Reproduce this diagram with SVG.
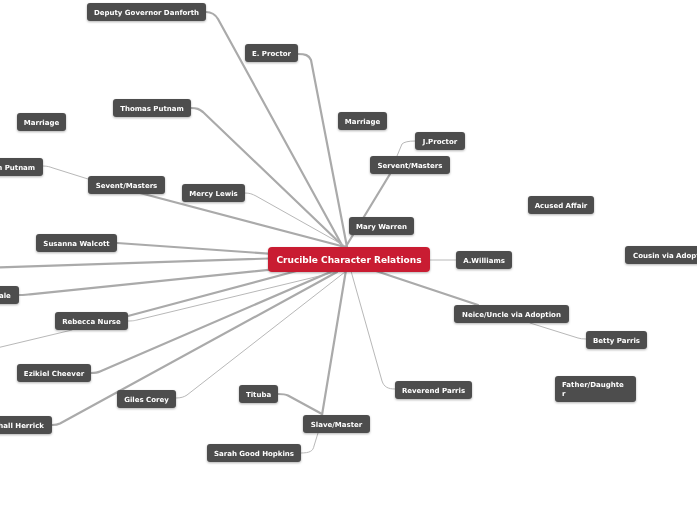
<svg xmlns="http://www.w3.org/2000/svg" width="697" height="520" viewBox="0 0 697 520">
<style>
.n rect{fill:#4d4d4d}
.n text{fill:#fff;font-family:"DejaVu Sans",Verdana,sans-serif;font-weight:bold;font-size:7px;text-anchor:middle}
.c rect{fill:#c91f31}
.c text{fill:#fff;font-family:"DejaVu Sans",Verdana,sans-serif;font-weight:bold;font-size:9px;text-anchor:middle}
.k{fill:none;stroke:#aaaaaa;stroke-width:2.2;stroke-linecap:round}
.t{fill:none;stroke:#b8b8b8;stroke-width:1;stroke-linecap:round}
</style>
<defs>
<filter id="sh" x="-10%" y="-20%" width="120%" height="150%">
<feDropShadow dx="0" dy="1" stdDeviation="0.8" flood-color="#000" flood-opacity="0.3"/>
</filter>
</defs>
<rect width="697" height="520" fill="#ffffff"/>
<g id="connectors">
<path class="k" d="M206,12 C212,12 215,14 218,19 L343,247"/>
<path class="k" d="M298,54 C305,54 309,55 311,60 L347,247"/>
<path class="k" d="M191,108 C197,108 199,109 203,112 L343,246"/>
<path class="t" d="M245,193 C250,193 252,194 256,196 L345,246"/>
<path class="k" d="M140,193 L345,247"/>
<path class="t" d="M43,166 C48,166 50,167 53,168 L88,179"/>
<path class="k" d="M345,248 L390,174"/>
<path class="t" d="M397,156 L402,144 Q405,141 415,141"/>
<path class="k" d="M117,243 L345,259"/>
<path class="k" d="M-20,268 L345,256"/>
<path class="k" d="M19,295 C24,295 27,295 30,294.3 L345,262"/>
<path class="k" d="M128,316 L330,262"/>
<path class="t" d="M128,321 C133,321 135,320.5 137,320 L340,271"/>
<path class="t" d="M-20,352 L72,330"/>
<path class="k" d="M91,373 C96,373 98,372.5 100,371.5 L335,270"/>
<path class="t" d="M176,398 C181,398 184,397 187,395 L345,272"/>
<path class="k" d="M52,425 C56,425 58,424.5 60,423.5 L337,272"/>
<path class="k" d="M346,270 L322,415"/>
<path class="k" d="M278,394 C283,394 285,394 288,395.5 L322,414"/>
<path class="t" d="M301,453 C310,453 313,451 314,446 L318,433"/>
<path class="t" d="M395,389 C388,389 384,387 382,381 L351,271"/>
<path class="t" d="M430,260 L456,260"/>
<path class="k" d="M349,262 L478,305"/>
<path class="t" d="M530,323 L578,338 Q581,339 586,339"/>
</g>
<g id="node-danforth" class="n" filter="url(#sh)"><rect x="87" y="3" width="119" height="18" rx="3"/><text x="146.5" y="14.5">Deputy Governor Danforth</text></g>
<g id="node-eproctor" class="n" filter="url(#sh)"><rect x="245" y="44" width="53" height="18" rx="3"/><text x="271.5" y="55.5">E. Proctor</text></g>
<g id="node-thomasputnam" class="n" filter="url(#sh)"><rect x="113" y="99" width="78" height="18" rx="3"/><text x="152" y="110.5">Thomas Putnam</text></g>
<g id="node-marriage-left" class="n" filter="url(#sh)"><rect x="17" y="113" width="49" height="18" rx="3"/><text x="41.5" y="124.5">Marriage</text></g>
<g id="node-annputnam" class="n" filter="url(#sh)"><rect x="-21" y="158" width="64" height="18" rx="3"/><text x="11" y="169.5">Ann Putnam</text></g>
<g id="node-sevent" class="n" filter="url(#sh)"><rect x="88" y="176" width="77" height="18" rx="3"/><text x="126.5" y="187.5">Sevent/Masters</text></g>
<g id="node-mercylewis" class="n" filter="url(#sh)"><rect x="182" y="184" width="63" height="18" rx="3"/><text x="213.5" y="195.5">Mercy Lewis</text></g>
<g id="node-susanna" class="n" filter="url(#sh)"><rect x="36" y="234" width="81" height="18" rx="3"/><text x="76.5" y="245.5">Susanna Walcott</text></g>
<g id="node-hale" class="n" filter="url(#sh)"><rect x="-15" y="286" width="34" height="18" rx="3"/><text x="2" y="297.5">Hale</text></g>
<g id="node-rebecca" class="n" filter="url(#sh)"><rect x="55" y="312" width="73" height="18" rx="3"/><text x="91.5" y="323.5">Rebecca Nurse</text></g>
<g id="node-ezikiel" class="n" filter="url(#sh)"><rect x="17" y="364" width="74" height="18" rx="3"/><text x="54" y="375.5">Ezikiel Cheever</text></g>
<g id="node-giles" class="n" filter="url(#sh)"><rect x="117" y="390" width="59" height="18" rx="3"/><text x="146.5" y="401.5">Giles Corey</text></g>
<g id="node-herrick" class="n" filter="url(#sh)"><rect x="-29" y="416" width="81" height="18" rx="3"/><text x="11.5" y="427.5">Marshall Herrick</text></g>
<g id="node-tituba" class="n" filter="url(#sh)"><rect x="239" y="385" width="39" height="18" rx="3"/><text x="258.5" y="396.5">Tituba</text></g>
<g id="node-slavemaster" class="n" filter="url(#sh)"><rect x="303" y="415" width="67" height="18" rx="3"/><text x="336.5" y="426.5">Slave/Master</text></g>
<g id="node-sarahgood" class="n" filter="url(#sh)"><rect x="207" y="444" width="94" height="18" rx="3"/><text x="254" y="455.5">Sarah Good Hopkins</text></g>
<g id="node-revparris" class="n" filter="url(#sh)"><rect x="395" y="381" width="77" height="18" rx="3"/><text x="433.5" y="392.5">Reverend Parris</text></g>
<g id="node-marriage-right" class="n" filter="url(#sh)"><rect x="338" y="112" width="49" height="18" rx="3"/><text x="362.5" y="123.5">Marriage</text></g>
<g id="node-jproctor" class="n" filter="url(#sh)"><rect x="415" y="132" width="50" height="18" rx="3"/><text x="440" y="143.5">J.Proctor</text></g>
<g id="node-servent" class="n" filter="url(#sh)"><rect x="370" y="156" width="80" height="18" rx="3"/><text x="410" y="167.5">Servent/Masters</text></g>
<g id="node-acused" class="n" filter="url(#sh)"><rect x="528" y="196" width="66" height="18" rx="3"/><text x="561" y="207.5">Acused Affair</text></g>
<g id="node-marywarren" class="n" filter="url(#sh)"><rect x="349" y="217" width="65" height="18" rx="3"/><text x="381.5" y="228.5">Mary Warren</text></g>
<g id="node-awilliams" class="n" filter="url(#sh)"><rect x="456" y="251" width="56" height="18" rx="3"/><text x="484" y="262.5">A.Williams</text></g>
<g id="node-cousin" class="n" filter="url(#sh)"><rect x="625" y="246" width="95" height="18" rx="3"/><text x="672.5" y="257.5">Cousin via Adoption</text></g>
<g id="node-neice" class="n" filter="url(#sh)"><rect x="454" y="305" width="115" height="18" rx="3"/><text x="511.5" y="316.5">Neice/Uncle via Adoption</text></g>
<g id="node-betty" class="n" filter="url(#sh)"><rect x="586" y="331" width="61" height="18" rx="3"/><text x="616.5" y="342.5">Betty Parris</text></g>
<g id="node-fatherdaughter" class="n" filter="url(#sh)"><rect x="555" y="376" width="81" height="26" rx="3"/><text x="562" y="387" style="text-anchor:start">Father/Daughte</text><text x="562" y="396" style="text-anchor:start">r</text></g>
<g id="node-center" class="c" filter="url(#sh)"><rect x="268" y="247" width="162" height="25" rx="4"/><text x="349" y="263">Crucible Character Relations</text></g>
</svg>
